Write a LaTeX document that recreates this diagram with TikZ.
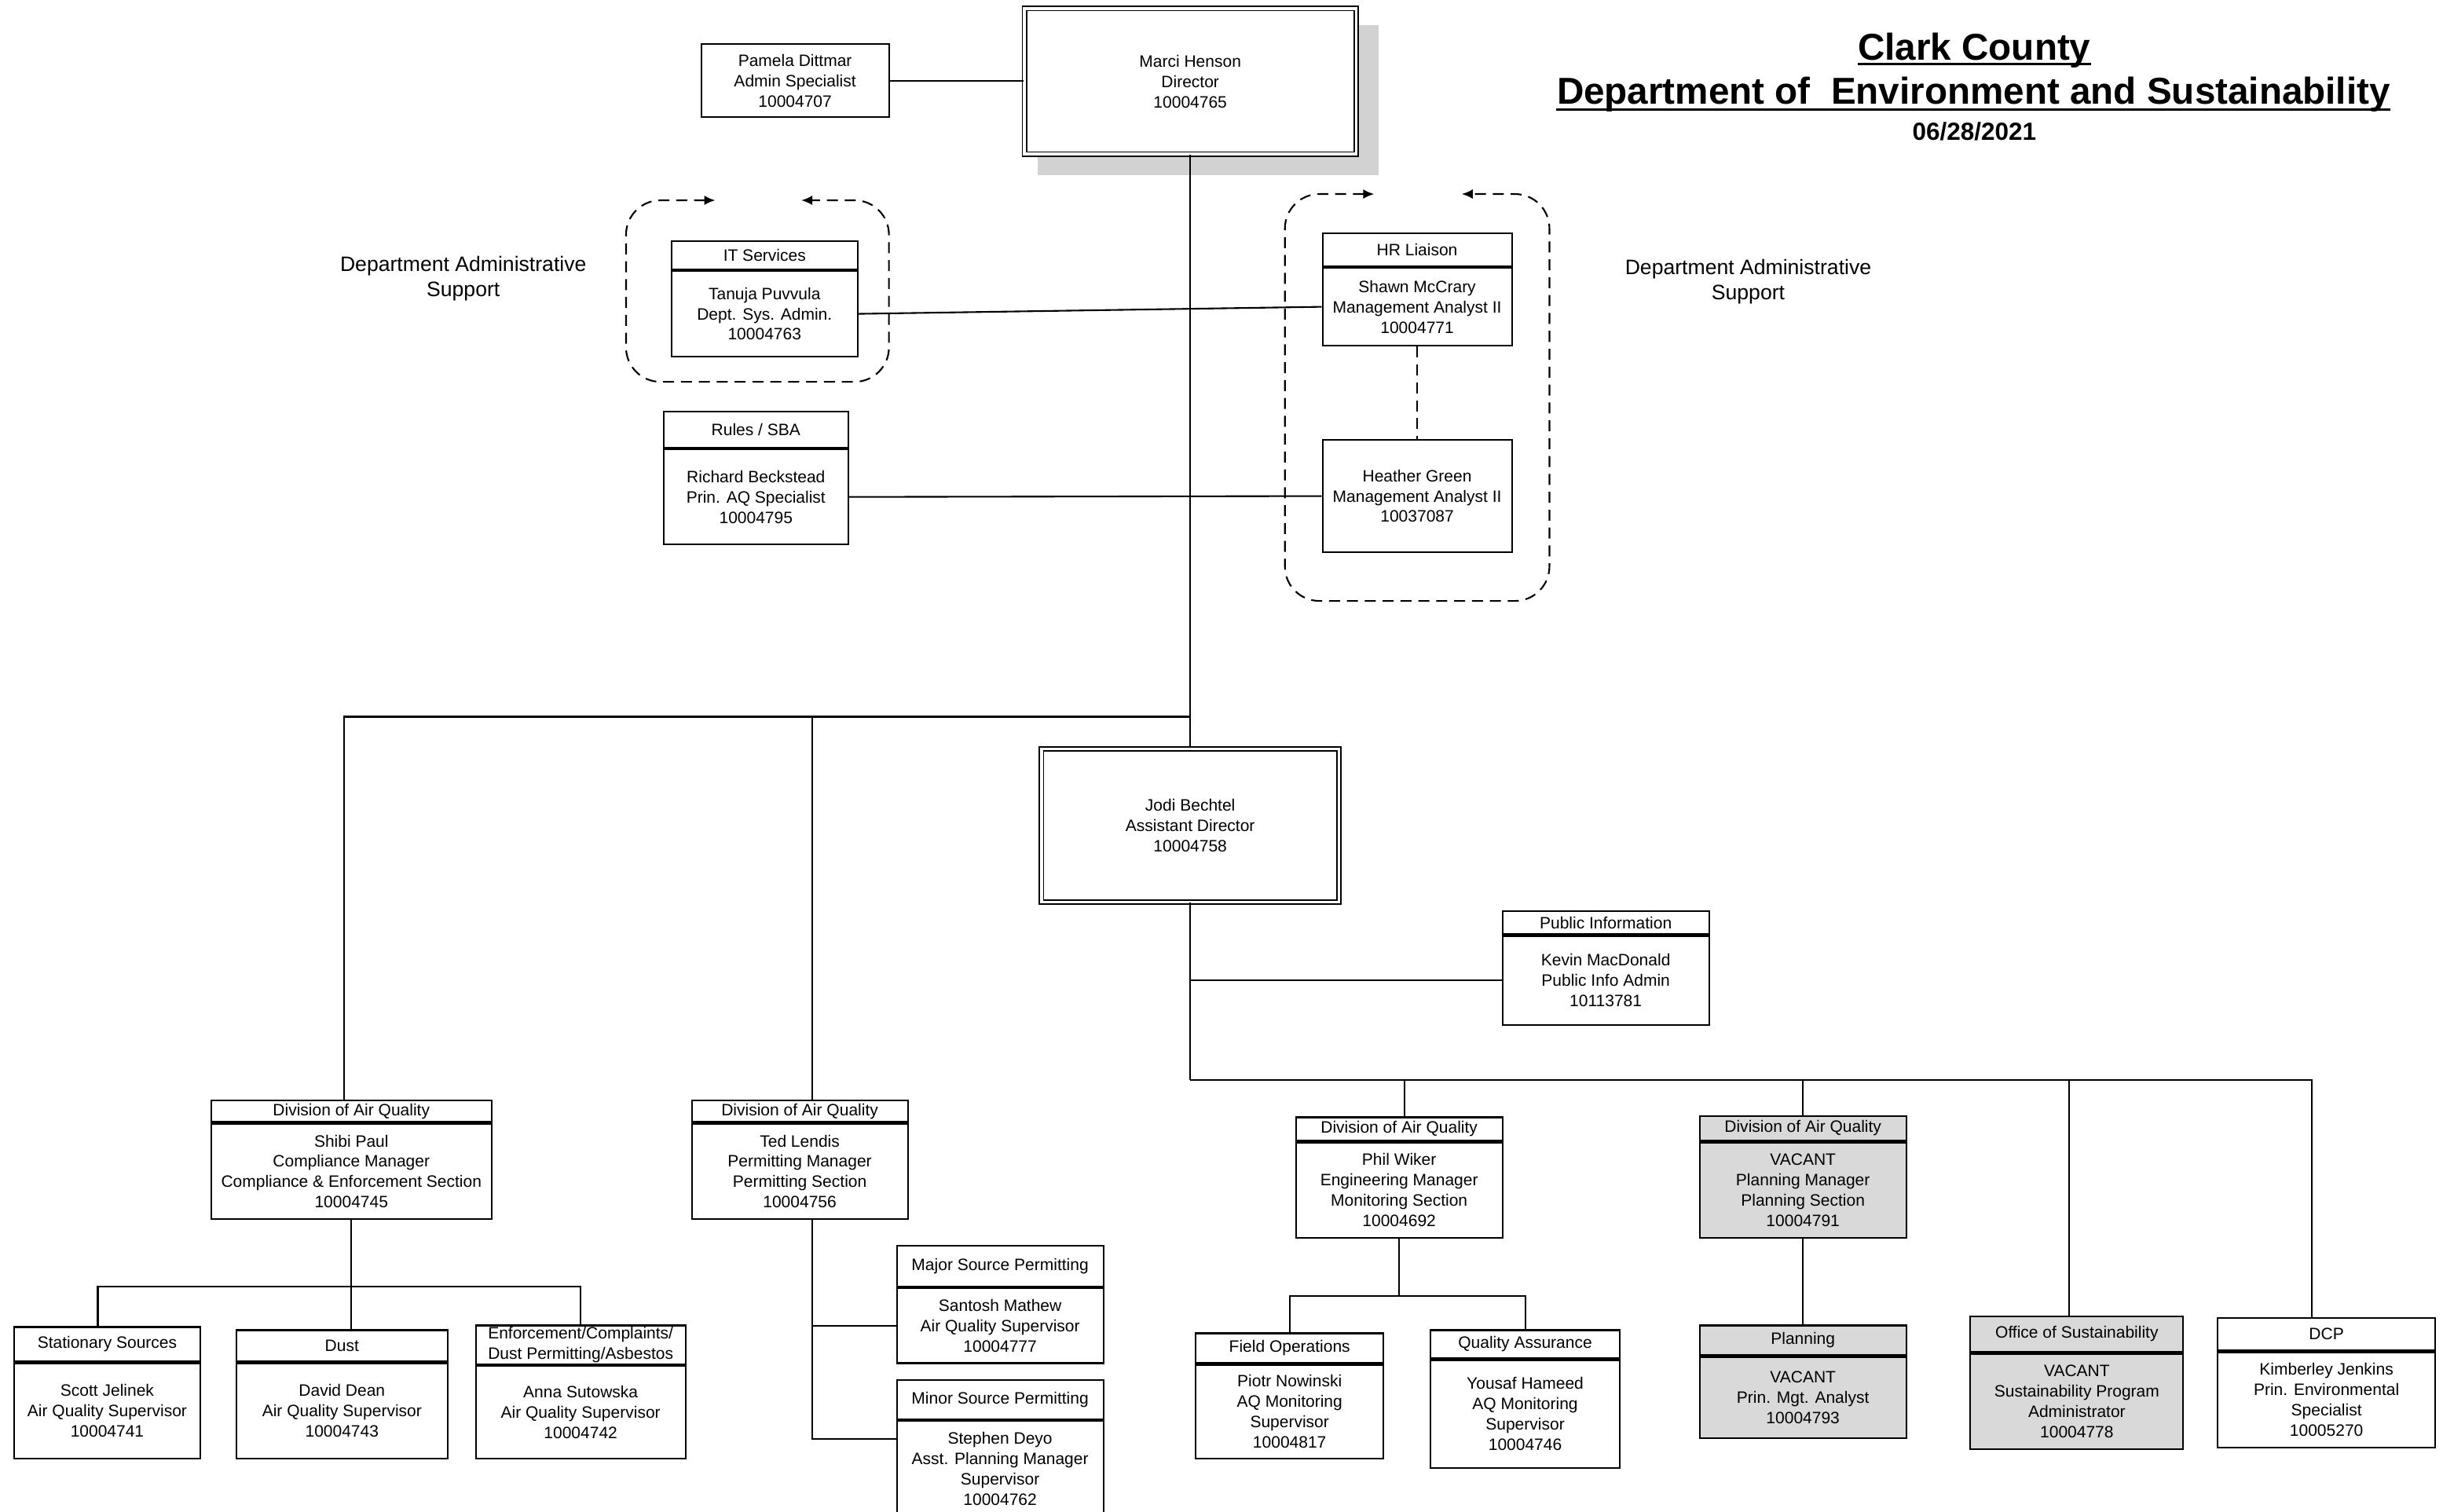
\documentclass[tikz,border=0pt]{standalone}
\usepackage{fontspec}
\setmainfont{Liberation Sans}
\usetikzlibrary{positioning,arrows.meta}

\newcommand\boxfont{\fontsize{6}{7.4}\selectfont}
\newcommand\notefont{\fontsize{7.6}{9.1}\selectfont}

\tikzset{
  unit/.style 2 args={draw, line width=0.6pt, fill=white, inner sep=0pt, align=center,
    minimum width=#1*0.02cm, minimum height=#2*0.02cm, font=\boxfont},
  vacant/.style={fill=gray!30},
  chief/.style 2 args={draw, double, double distance=1pt, line width=0.5pt, fill=white,
    inner sep=0pt, align=center, minimum width=#1*0.02cm, minimum height=#2*0.02cm, font=\boxfont},
  ghost/.style 2 args={fill=gray!35, inner sep=0pt, minimum width=#1*0.02cm, minimum height=#2*0.02cm},
  heading/.style={inner sep=0pt, anchor=base, font=\fontsize{13.6}{16}\selectfont\bfseries},
  link/.style={line width=0.6pt},
  frame/.style={line width=0.6pt, dash pattern=on 4pt off 2.5pt, rounded corners=0.44cm,
    {Latex[length=4pt,width=3.5pt]}-{Latex[length=4pt,width=3.5pt]}},
}

\begin{document}
\begin{tikzpicture}[x=0.02cm, y=-0.02cm]
  \useasboundingbox (0,0) rectangle (1568,966);

  % title
  \node[heading] (county) at (1261.5,38.5) {Clark County};
  \node[heading] (dept) at (1261,66.5) {Department of~ Environment and Sustainability};
  \node[heading, font=\fontsize{9}{11}\selectfont\bfseries] (date) at (1261.5,89.5) {06/28/2021};
  \draw[line width=0.8pt] ([yshift=-1.3pt]county.base west) -- ([yshift=-1.3pt]county.base east);
  \draw[line width=0.8pt] ([yshift=-1.9pt]dept.base west) -- ([yshift=-1.9pt]dept.base east);

  \node[font=\notefont, align=center] (admleft) at (296,178) {Department Administrative\\Support};
  \node[font=\notefont, align=center] (admright) at (1117,180) {Department Administrative\\Support};

  % director level
  \node[ghost={218}{96}] (dirsh) at (772,64) {};
  \node[chief={212}{93}] (dir) at (760.5,52) {Marci Henson\\Director\\10004765};
  \node[unit={120}{47}] (pam) at (508,51.5) {Pamela Dittmar\\Admin Specialist\\10004707};

  % support units
  \node[unit={119}{18}] (ith) at (488.5,163) {IT Services};
  \node[unit={119}{55}, below=0pt of ith] (itb) {Tanuja Puvvula\\Dept. Sys. Admin.\\10004763};
  \node[unit={118}{23}] (rulesh) at (483,274.5) {Rules / SBA};
  \node[unit={118}{61}, below=0pt of rulesh] (rulesb) {Richard Beckstead\\Prin. AQ Specialist\\10004795};
  \node[unit={121}{21}] (hrh) at (905.5,159.5) {HR Liaison};
  \node[unit={121}{50}, below=0pt of hrh] (hrb) {Shawn McCrary\\Management Analyst II\\10004771};
  \node[unit={121}{72}] (heather) at (905.5,317) {Heather Green\\Management Analyst II\\10037087};

  \draw[frame] (457,128) -- (400,128) -- (400,244) -- (568,244) -- (568,128) -- (512,128);
  \draw[frame] (878,124) -- (821,124) -- (821,384) -- (990,384) -- (990,124) -- (934,124);

  % assistant director
  \node[chief={190}{98}] (jodi) at (760.5,527.5) {Jodi Bechtel\\Assistant Director\\10004758};
  \node[unit={132}{15}] (pioh) at (1026,589.5) {Public Information};
  \node[unit={132}{57}, below=0pt of pioh] (piob) {Kevin MacDonald\\Public Info Admin\\10113781};

  % divisions
  \node[unit={179}{14}] (shibih) at (224.5,710) {Division of Air Quality};
  \node[unit={179}{61}, below=0pt of shibih] (shibib) {Shibi Paul\\Compliance Manager\\Compliance \& Enforcement Section\\10004745};
  \node[unit={138}{14}] (tedh) at (511,710) {Division of Air Quality};
  \node[unit={138}{61}, below=0pt of tedh] (tedb) {Ted Lendis\\Permitting Manager\\Permitting Section\\10004756};
  \node[unit={132}{15}] (philh) at (894,721.5) {Division of Air Quality};
  \node[unit={132}{61}, below=0pt of philh] (philb) {Phil Wiker\\Engineering Manager\\Monitoring Section\\10004692};
  \node[unit={132}{16}, vacant] (planh) at (1152,721) {Division of Air Quality};
  \node[unit={132}{61}, vacant, below=0pt of planh] (planb) {VACANT\\Planning Manager\\Planning Section\\10004791};

  % sections
  \node[unit={119}{22}] (stath) at (68.5,859) {Stationary Sources};
  \node[unit={119}{61}, below=0pt of stath] (statb) {Scott Jelinek\\Air Quality Supervisor\\10004741};
  \node[unit={135}{20}] (dusth) at (218.5,860) {Dust};
  \node[unit={135}{61}, below=0pt of dusth] (dustb) {David Dean\\Air Quality Supervisor\\10004743};
  \node[unit={134}{25}] (enfh) at (371,859.5) {Enforcement/Complaints/\\Dust Permitting/Asbestos};
  \node[unit={134}{59}, below=0pt of enfh] (enfb) {Anna Sutowska\\Air Quality Supervisor\\10004742};
  \node[unit={132}{26}] (majorh) at (639,809) {Major Source Permitting};
  \node[unit={132}{48}, below=0pt of majorh] (majorb) {Santosh Mathew\\Air Quality Supervisor\\10004777};
  \node[unit={132}{25}] (minorh) at (639,894.5) {Minor Source Permitting};
  \node[unit={132}{61}, below=0pt of minorh] (minorb) {Stephen Deyo\\Asst. Planning Manager\\Supervisor\\10004762};
  \node[unit={120}{19}] (fieldh) at (824,861.5) {Field Operations};
  \node[unit={120}{60}, below=0pt of fieldh] (fieldb) {Piotr Nowinski\\AQ Monitoring\\Supervisor\\10004817};
  \node[unit={121}{18}] (qah) at (974.5,859) {Quality Assurance};
  \node[unit={121}{69}, below=0pt of qah] (qab) {Yousaf Hameed\\AQ Monitoring\\Supervisor\\10004746};
  \node[unit={132}{19}, vacant] (planningh) at (1152,856.5) {Planning};
  \node[unit={132}{52}, vacant, below=0pt of planningh] (planningb) {VACANT\\Prin. Mgt. Analyst\\10004793};
  \node[unit={136}{23}, vacant] (susth) at (1327,852.5) {Office of Sustainability};
  \node[unit={136}{61}, vacant, below=0pt of susth] (sustb) {VACANT\\Sustainability Program\\Administrator\\10004778};
  \node[unit={139}{21}] (dcph) at (1486.5,852.5) {DCP};
  \node[unit={139}{61}, below=0pt of dcph] (dcpb) {Kimberley Jenkins\\Prin. Environmental\\Specialist\\10005270};

  % connectors
  \coordinate (hub) at (760.5,458);
  \coordinate (split) at (760.5,690);
  \coordinate (cmpbus) at (224.5,822);
  \coordinate (monbus) at (894,828);

  \draw[link] (pam.east) -- (pam.east -| dir.west);
  \draw[link] (dir) -- (jodi);
  \draw[link] (itb.east) -- (hrb.west);
  \draw[link] (rulesb.east) -- (heather.west);
  \draw[link, dash pattern=on 4pt off 2.5pt] (hrb) -- (heather);

  \draw[link] ([xshift=-0.09cm]shibih.north) |- (hub);
  \draw[link] ([xshift=0.16cm]tedh.north) -- ([xshift=0.16cm]tedh.north |- hub);

  \draw[link] (shibib.south) -- (shibib.south |- dusth.north);
  \draw[link] ([xshift=-0.12cm]stath.north) |- (cmpbus) -| (enfh.north);

  \draw[link] (majorb.west) -| ([xshift=0.16cm]tedb.south);
  \draw[link] ([xshift=0.16cm]tedb.south) |- ([yshift=-0.24cm]minorb.north west);

  \draw[link] (jodi.south) -- (split);
  \draw[link] (piob.west) -- (piob.west -| jodi.south);
  \draw[link] (split) -| ([xshift=-0.19cm]dcph.north);
  \draw[link] ([xshift=0.066cm]philh.north) -- ([xshift=0.066cm]philh.north |- split);
  \draw[link] (planh.north) -- (planh.north |- split);
  \draw[link] ([xshift=-0.1cm]susth.north) -- ([xshift=-0.1cm]susth.north |- split);

  \draw[link] (philb.south) -- (monbus);
  \draw[link] (fieldh.north) |- (monbus) -| (qah.north);
  \draw[link] (planb.south) -- (planningh.north);
\end{tikzpicture}
\end{document}
